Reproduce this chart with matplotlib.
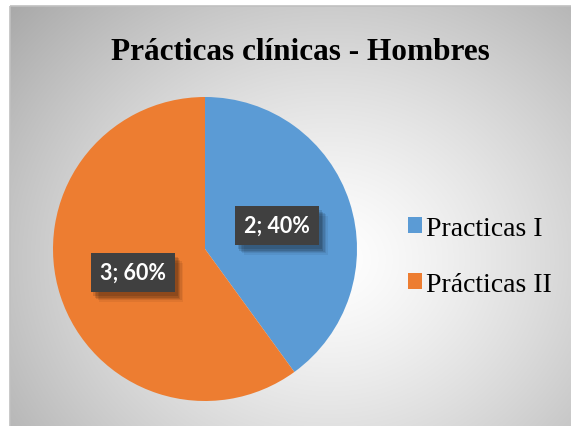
import numpy as np
import matplotlib
matplotlib.use("Agg")
import matplotlib.pyplot as plt
from matplotlib import patheffects as pe
from matplotlib.patches import Rectangle

categories = ["Practicas I", "Prácticas II"]
values = [2, 3]
colors = ["#5B9BD5", "#ED7D31"]
title = "Prácticas clínicas - Hombres"

W, H = 571, 427
fig = plt.figure(figsize=(W / 100, H / 100), dpi=100)
fig.patch.set_facecolor("white")

# background with radial gradient
bg = fig.add_axes([0, 0, 1, 1])
bg.set_xlim(0, W)
bg.set_ylim(H, 0)
bg.axis("off")
x0, y0 = 10, 7
yy, xx = np.mgrid[y0:H, x0:W]
cx, cy = 330, 260
d = np.sqrt(((xx - cx) / 330.0) ** 2 + ((yy - cy) / 290.0) ** 2)
v = 1.0 - 0.24 * np.clip(d, 0, 1.3) ** 1.3
img = np.dstack([v, v, v])
bg.imshow(img, extent=[x0, W, H, y0], interpolation="bilinear", zorder=0, aspect="auto")
bg.add_patch(Rectangle((x0, y0), W - x0 + 5, H - y0 + 5, fill=False, edgecolor="#c0c0c0", lw=1.2, zorder=1))

bg.text(300, 52, title, ha="center", va="center", fontsize=22.5,
        fontweight="bold", family="Liberation Serif", color="black")

# pie
pcx, pcy, R = 205, 250, 152
ax = fig.add_axes([(pcx - R) / W, (H - pcy - R) / H, 2 * R / W, 2 * R / H])
total = sum(values)
wedges, texts, autotexts = ax.pie(
    values, colors=colors, startangle=90, counterclock=False,
    autopct=lambda p: f"{int(round(p * total / 100))}; {p:.0f}%",
    pctdistance=0.5, labeldistance=None,
    wedgeprops=dict(linewidth=0),
    textprops=dict(color="white", fontsize=15.5, fontweight="bold", family="Lato"),
)
ax.set_xlim(-1, 1)
ax.set_ylim(-1, 1)
ax.set_aspect("equal")
for t in autotexts:
    t.set_bbox(dict(boxstyle="square,pad=0.42", facecolor="#404040", edgecolor="none",
                    linewidth=0))
    effects = []
    for off, a in [((6, -7), 0.06), ((5, -6), 0.08), ((4, -5), 0.10), ((3, -4), 0.12), ((2, -3), 0.12)]:
        effects.append(pe.withSimplePatchShadow(offset=off, shadow_rgbFace="black", alpha=a))
    effects.append(pe.Normal())
    t.get_bbox_patch().set_path_effects(effects)

leg = fig.legend(wedges, categories, loc="upper left",
                 bbox_to_anchor=(408 / W, 1 - 217 / H),
                 prop=dict(family="Liberation Serif", size=20),
                 frameon=False, handlelength=0.5, handleheight=0.5,
                 handletextpad=0.15, labelspacing=1.1, borderaxespad=0, borderpad=0)

fig.savefig("out.png", dpi=100)
